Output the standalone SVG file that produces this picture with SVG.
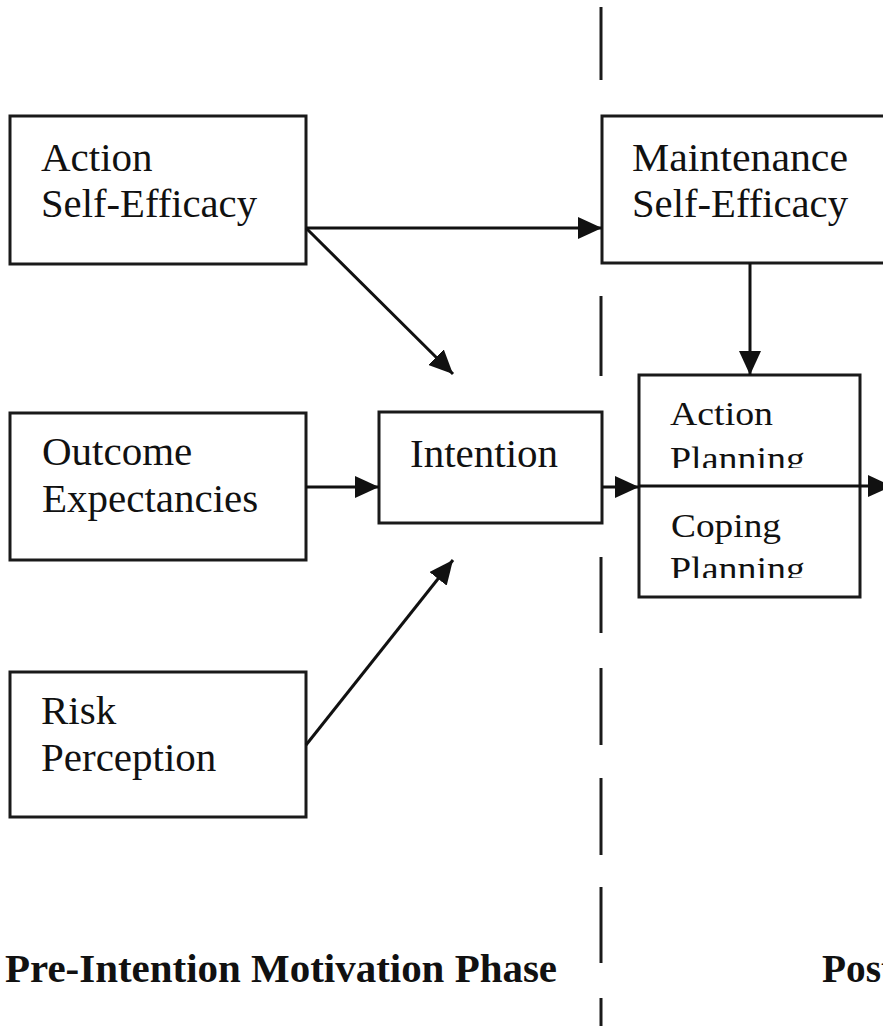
<svg xmlns="http://www.w3.org/2000/svg" width="883" height="1026" viewBox="0 0 883 1026">
<style>
.box{fill:#fff;stroke:#1a1a1a;stroke-width:3}
.t{font-family:"Liberation Serif","Times New Roman",serif;font-size:41px;fill:#111}
.s{font-family:"Liberation Serif","Times New Roman",serif;font-size:34px;fill:#111}
.b{font-family:"Liberation Serif","Times New Roman",serif;font-size:41px;font-weight:bold;fill:#111}
.c{stroke:#111;stroke-width:3;fill:none}
.d{stroke:#1a1a1a;stroke-width:3}
</style>
<defs>
<marker id="ah" markerUnits="userSpaceOnUse" markerWidth="26" markerHeight="22" refX="24" refY="11" orient="auto">
<path d="M0,0 L24,11 L0,22 Z" fill="#111"/>
</marker>
<clipPath id="clipA"><rect x="640" y="376" width="219" height="92"/></clipPath>
<clipPath id="clipC"><rect x="640" y="488" width="219" height="90"/></clipPath>
</defs>
<g id="divider">
<line class="d" x1="601" y1="7" x2="601" y2="80"/>
<line class="d" x1="601" y1="296" x2="601" y2="376"/>
<line class="d" x1="601" y1="557" x2="601" y2="633"/>
<line class="d" x1="601" y1="668" x2="601" y2="745"/>
<line class="d" x1="601" y1="778" x2="601" y2="855"/>
<line class="d" x1="601" y1="887" x2="601" y2="963"/>
<line class="d" x1="601" y1="998" x2="601" y2="1026"/>
</g>
<g id="action-self-efficacy">
<rect class="box" x="10" y="116" width="296" height="148"/>
<text class="t" x="41" y="171">Action</text>
<text class="t" x="41" y="217" textLength="216" lengthAdjust="spacingAndGlyphs">Self-Efficacy</text>
</g>
<g id="outcome-expectancies">
<rect class="box" x="10" y="413" width="296" height="147"/>
<text class="t" x="42" y="465">Outcome</text>
<text class="t" x="42" y="512">Expectancies</text>
</g>
<g id="risk-perception">
<rect class="box" x="10" y="672" width="296" height="145"/>
<text class="t" x="41" y="724">Risk</text>
<text class="t" x="41" y="771">Perception</text>
</g>
<g id="intention">
<rect class="box" x="379" y="412" width="223" height="111"/>
<text class="t" x="410" y="467">Intention</text>
</g>
<g id="maintenance-self-efficacy">
<rect class="box" x="602" y="116" width="300" height="147"/>
<text class="t" x="632" y="171" textLength="216" lengthAdjust="spacingAndGlyphs">Maintenance</text>
<text class="t" x="632" y="217" textLength="216" lengthAdjust="spacingAndGlyphs">Self-Efficacy</text>
</g>
<g id="planning">
<rect class="box" x="639" y="375" width="221" height="222"/>
<g clip-path="url(#clipA)">
<text class="s" x="670" y="425" textLength="103" lengthAdjust="spacingAndGlyphs">Action</text>
<text class="s" x="670" y="470" textLength="135" lengthAdjust="spacingAndGlyphs">Planning</text>
</g>
<g clip-path="url(#clipC)">
<text class="s" x="671" y="537" textLength="110" lengthAdjust="spacingAndGlyphs">Coping</text>
<text class="s" x="670" y="580" textLength="135" lengthAdjust="spacingAndGlyphs">Planning</text>
</g>
</g>
<g id="connectors">
<line class="c" x1="306" y1="228" x2="602" y2="228" marker-end="url(#ah)"/>
<line class="c" x1="306" y1="228" x2="453" y2="374" marker-end="url(#ah)"/>
<line class="c" x1="306" y1="487" x2="379" y2="487" marker-end="url(#ah)"/>
<line class="c" x1="306" y1="745" x2="453" y2="560" marker-end="url(#ah)"/>
<line class="c" x1="602" y1="487" x2="639" y2="487" marker-end="url(#ah)"/>
<line class="c" x1="639" y1="486" x2="892" y2="486" marker-end="url(#ah)"/>
<line class="c" x1="750" y1="263" x2="750" y2="375" marker-end="url(#ah)"/>
</g>
<g id="phase-labels">
<text class="b" x="5" y="982" textLength="552" lengthAdjust="spacingAndGlyphs">Pre-Intention Motivation Phase</text>
<text class="b" x="822" y="982" textLength="72" lengthAdjust="spacingAndGlyphs">Post</text>
</g>
</svg>
